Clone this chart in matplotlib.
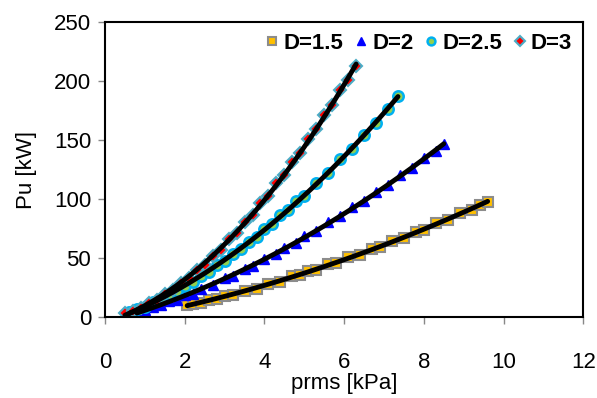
import numpy as np
import matplotlib
matplotlib.use("Agg")
import matplotlib.pyplot as plt

plt.rcParams['font.family'] = ['Liberation Sans', 'DejaVu Sans']

x15 = [2.06, 2.2, 2.4, 2.6, 2.8, 3.0, 3.2, 3.5, 3.8, 4.1, 4.4, 4.7, 4.9, 5.1, 5.3, 5.6,
       5.8, 6.1, 6.4, 6.7, 6.9, 7.2, 7.5, 7.8, 8.0, 8.3, 8.6, 8.9, 9.2, 9.4, 9.6]
y15 = [10.0, 11.5, 12.2, 14.6, 15.3, 18.0, 19.0, 22.6, 24.3, 28.3, 30.2, 34.6, 35.4, 38.9, 40.0,
       44.8, 45.9, 50.6, 53.0, 58.0, 59.4, 64.5, 67.2, 72.5, 74.0, 79.5, 82.4, 88.0, 91.0, 95.4, 97.8]

x2 = [0.8, 1.0, 1.2, 1.4, 1.6, 1.8, 2.0, 2.2, 2.4, 2.7, 3.0, 3.2, 3.5, 3.7, 4.0, 4.3,
      4.5, 4.8, 5.0, 5.3, 5.6, 5.9, 6.2, 6.5, 6.8, 7.1, 7.4, 7.7, 8.0, 8.3, 8.5]
y2 = [4.7, 6.0, 8.9, 10.2, 13.5, 14.8, 18.4, 20.0, 23.9, 27.0, 32.9, 34.8, 41.0, 43.0, 49.6, 53.8,
      58.8, 63.0, 68.4, 72.9, 80.5, 85.3, 93.2, 98.2, 106.4, 111.8, 120.2, 125.9, 134.5, 140.4, 146.5]

x25 = [0.6, 0.8, 1.0, 1.2, 1.4, 1.6, 1.8, 2.0, 2.2, 2.4, 2.6, 2.8, 3.0, 3.2, 3.4, 3.6,
       3.8, 4.0, 4.2, 4.4, 4.6, 4.8, 5.0, 5.3, 5.6, 5.9, 6.2, 6.5, 6.8, 7.1, 7.35]
y25 = [4.3, 6.9, 9.0, 12.6, 15.0, 19.3, 22.0, 26.8, 29.7, 35.1, 38.3, 44.0, 47.6, 53.8, 57.5, 64.0,
       68.0, 75.0, 79.0, 86.4, 90.8, 98.3, 103.0, 114.0, 122.1, 133.8, 142.4, 154.5, 164.0, 176.4, 187.0]

x3 = [0.5, 0.7, 0.9, 1.1, 1.3, 1.5, 1.7, 1.9, 2.1, 2.3, 2.5, 2.7, 2.9, 3.1, 3.3, 3.5,
      3.7, 3.9, 4.1, 4.3, 4.5, 4.7, 4.9, 5.1, 5.3, 5.5, 5.7, 5.9, 6.1, 6.3]
y3 = [3.8, 5.6, 7.8, 12.0, 14.6, 19.9, 23.2, 29.2, 33.2, 40.1, 44.6, 52.2, 57.3, 65.8, 71.4, 80.5,
      86.6, 96.3, 103.0, 113.4, 120.6, 131.7, 139.4, 150.6, 159.0, 170.8, 179.6, 192.0, 201.0, 213.0]

labels = ['D=1.5', 'D=2', 'D=2.5', 'D=3']

fig, ax = plt.subplots(figsize=(5.97, 3.98), dpi=100)
fig.subplots_adjust(left=0.176, right=0.977, top=0.945, bottom=0.203)

styles = [
    dict(marker='s', mfc='#FFC000', mec='#8C8C8C', ms=7, mew=1.5),
    dict(marker='^', mfc='#0000FF', mec='#0000FF', ms=7, mew=1.0),
    dict(marker='o', mfc='#92D050', mec='#00B0F0', ms=7.5, mew=1.8),
    dict(marker='D', mfc='#FF0000', mec='#4BACC6', ms=6.5, mew=1.5),
]
series = [(x15, y15), (x2, y2), (x25, y25), (x3, y3)]
for (xs, ys), st, lab in zip(series, styles, labels):
    ax.plot(xs, ys, linestyle='none', label=lab, zorder=2, **st)
for xs, ys in series:
    c = np.polyfit(xs, ys, 2)
    xx = np.linspace(min(xs), max(xs), 100)
    ax.plot(xx, np.polyval(c, xx), color='black', lw=3.5, zorder=3, solid_capstyle='round')

ax.set_xlim(0, 12)
ax.set_ylim(0, 250)
ax.set_xticks(range(0, 13, 2))
ax.set_yticks(range(0, 251, 50))
ax.tick_params(axis='both', labelsize=16, direction='out', length=5, width=1, color='#888888')
ax.tick_params(axis='x', pad=20)
ax.tick_params(axis='y', pad=5)
for s in ax.spines.values():
    s.set_linewidth(1.5)
    s.set_color('black')
ax.set_xlabel('prms [kPa]', fontsize=16, labelpad=0)
ax.set_ylabel('Pu [kW]', fontsize=16, labelpad=12)

leg = ax.legend(loc='upper right', ncol=4, frameon=False,
                prop={'weight': 'bold', 'size': 16}, handletextpad=0.1,
                columnspacing=0.4, borderaxespad=0.3, handlelength=0.8, markerscale=0.75,
                borderpad=0.2)

fig.savefig('out.png', dpi=100)
